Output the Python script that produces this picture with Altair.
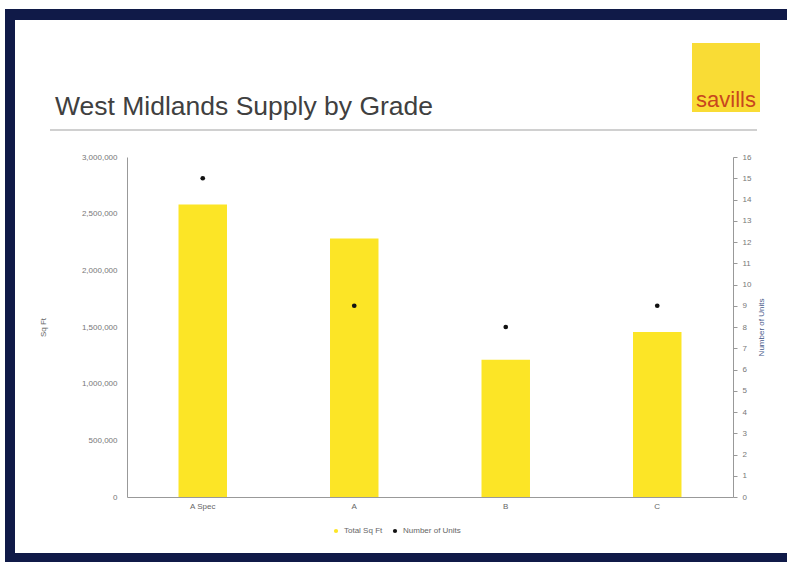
import altair as alt
import pandas as pd

# ---- data ----
grades = ["A Spec", "A", "B", "C"]
total_sq_ft = [2580000, 2280000, 1210000, 1455000]
num_units = [15, 9, 8, 9]
sqft_ticks = [0, 500000, 1000000, 1500000, 2000000, 2500000, 3000000]
unit_ticks = list(range(0, 17))
series_names = ["Total Sq Ft", "Number of Units"]
title_text = "West Midlands Supply by Grade"
logo_text = "savills"

df = pd.DataFrame({"Grade": grades, "Total Sq Ft": total_sq_ft, "Number of Units": num_units})
one = alt.Data(values=[{}])

# ---- layout ----
W, H = 606, 340
PL, PT, PR, PB = 127, 157, 54, 65
FONT = "Liberation Sans, Arial, sans-serif"
NAVY = "#101a48"
YELLOW = "#fce526"


def rect(x1, y1, x2, y2, color):
    return alt.Chart(one).mark_rect(color=color).encode(
        x=alt.value(x1 - PL), x2=alt.value(x2 - PL),
        y=alt.value(y1 - PT), y2=alt.value(y2 - PT))


frame = [
    rect(5, 9, 787, 20, NAVY),
    rect(5, 9, 15, 562, NAVY),
    rect(5, 553, 787, 562, NAVY),
    rect(692, 43, 760, 112, "#f9dc35"),
]
sep = alt.Chart(one).mark_rule(color="#d0d0d0", strokeWidth=2).encode(
    x=alt.value(50 - PL), x2=alt.value(757 - PL), y=alt.value(130 - PT))
title = alt.Chart(one).mark_text(
    align="left", baseline="alphabetic", fontSize=26.5, font=FONT, color="#404040"
).encode(x=alt.value(55 - PL), y=alt.value(115 - PT), text=alt.value(title_text))
logo = alt.Chart(one).mark_text(
    align="center", baseline="alphabetic", fontSize=22,
    font="Liberation Sans Narrow, Arial Narrow, Liberation Sans, sans-serif",
    color="#c8461e"
).encode(x=alt.value(726 - PL), y=alt.value(107 - PT), text=alt.value(logo_text))

color_scale = alt.Scale(domain=series_names, range=[YELLOW, "#111111"])

x_enc = alt.X("Grade:N", sort=grades, title=None,
              scale=alt.Scale(paddingInner=0.68, paddingOuter=0.34),
              axis=alt.Axis(labelAngle=0, labelFontSize=8, labelColor="#666",
                            labelFont=FONT, ticks=False, domainColor="#999",
                            labelPadding=5))

base = alt.Chart(df)
bars = base.mark_bar().encode(
    x=x_enc,
    y=alt.Y("Total Sq Ft:Q", scale=alt.Scale(domain=[0, 3000000]),
            axis=alt.Axis(values=sqft_ticks, format=",.0f", title="Sq Ft",
                          titleFontSize=8, titleColor="#666", titleFontWeight="normal",
                          titleFont=FONT, titleX=-80,
                          labelFontSize=8, labelColor="#777", labelFont=FONT,
                          grid=False, ticks=False, labelPadding=10,
                          domainColor="#999")),
    color=alt.Color("s:N", scale=color_scale,
                    legend=alt.Legend(orient="none", legendX=205, legendY=370,
                                      direction="horizontal", title=None,
                                      labelFontSize=8, labelColor="#666",
                                      labelFont=FONT, symbolType="circle",
                                      symbolSize=18, columnPadding=8,
                                      symbolStrokeWidth=0)),
).transform_calculate(s="'Total Sq Ft'")

points = base.mark_point(filled=True, size=22, opacity=1).encode(
    x=x_enc,
    y=alt.Y("Number of Units:Q", scale=alt.Scale(domain=[0, 16]),
            axis=alt.Axis(orient="right", values=unit_ticks, title="Number of Units",
                          titleFontSize=8, titleColor="#4a5a8a", titleFontWeight="normal",
                          titleFont=FONT, titleAngle=270, titleX=32,
                          labelFontSize=8, labelColor="#777", labelFont=FONT,
                          grid=False, tickSize=4, tickColor="#999",
                          labelPadding=5, domainColor="#999")),
    color=alt.Color("s:N", scale=color_scale),
).transform_calculate(s="'Number of Units'")

plot = alt.layer(bars, points).resolve_scale(y="independent")

chart = alt.layer(*frame, sep, title, logo, plot).properties(
    width=W, height=H,
    padding={"left": PL, "top": PT, "right": PR, "bottom": PB},
    autosize=alt.AutoSizeParams(type="none"),
    background="white",
).configure_view(stroke=None)

chart.save("out.html", embed_options={"renderer": "svg", "actions": False})
